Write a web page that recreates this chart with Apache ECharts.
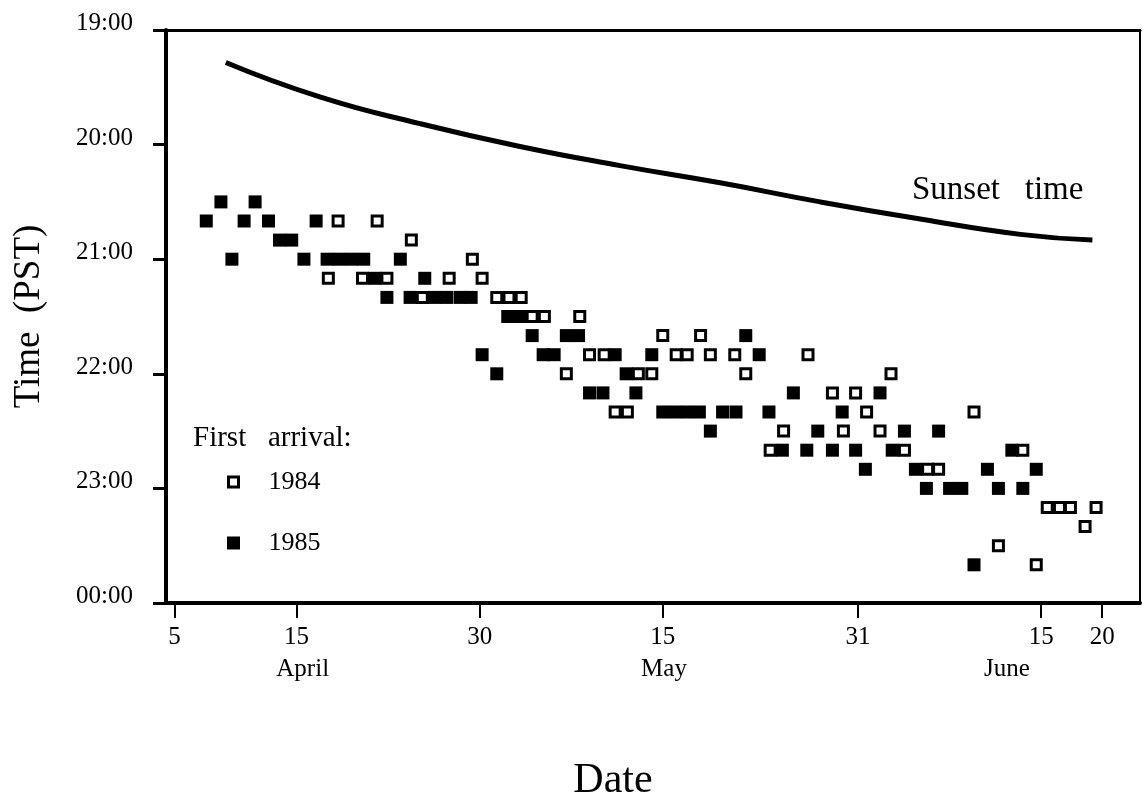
<!DOCTYPE html>
<html>
<head>
<meta charset="utf-8">
<script src="https://cdn.jsdelivr.net/npm/echarts@6/dist/echarts.min.js"></script>
<style>
html, body { margin: 0; padding: 0; background: #fff; }
#chart { width: 1143px; height: 793px; }
</style>
</head>
<body>
<div id="chart"></div>
<script>
// x values are days counted from March 31 (April 1 = 1)
var tickDays = [5, 15, 30, 45, 61, 76, 81];
var tickLabels = ['5', '15', '30', '15', '31', '15', '20'];
var monthDays = [15.5, 45.1, 73.2];
var monthNames = ['April', 'May', 'June'];

var sunsetDays = [9.2, 16.9, 25.1, 33.3, 41.5, 49.7, 57.9, 66.1, 74.3, 80.2];
var sunsetTimes = ['19:17', '19:35', '19:49', '20:01', '20:11', '20:20', '20:30', '20:39', '20:47', '20:50'];

var days1984 = [18.4, 21.6, 24.4, 29.4, 17.6, 20.4, 22.4, 27.5, 30.2, 25.3, 31.4, 32.4, 33.4,
  34.3, 35.3, 38.2, 45.0, 48.1, 39.0, 40.2, 46.1, 47.0, 48.9, 50.9, 56.9,
  37.1, 43.0, 44.1, 51.8, 63.7, 58.9, 60.8, 41.1, 42.1, 61.7, 70.5,
  54.9, 59.8, 62.8, 53.8, 64.8, 74.5, 66.7, 67.6, 76.5, 77.5, 78.4, 80.5,
  79.6, 72.5, 75.6];
var times1984 = ['20:40', '20:40', '20:50', '21:00', '21:10', '21:10', '21:10', '21:10', '21:10', '21:20', '21:20', '21:20', '21:20',
  '21:30', '21:30', '21:30', '21:40', '21:40', '21:50', '21:50', '21:50', '21:50', '21:50', '21:50', '21:50',
  '22:00', '22:00', '22:00', '22:00', '22:00', '22:10', '22:10', '22:20', '22:20', '22:20', '22:20',
  '22:30', '22:30', '22:30', '22:40', '22:40', '22:40', '22:50', '22:50', '23:10', '23:10', '23:10', '23:10',
  '23:20', '23:30', '23:40'];

var days1985 = [8.8, 11.6, 7.6, 10.7, 12.7, 16.6, 13.6, 14.6,
  9.7, 15.6, 17.5, 18.5, 19.5, 20.5, 23.5, 21.4, 25.5,
  22.4, 24.3, 26.3, 27.3, 28.4, 29.3, 32.3, 33.3,
  34.3, 37.1, 38.1, 51.8, 30.2, 35.2, 36.1, 41.1, 44.1, 52.9,
  31.4, 42.0, 39.0, 40.1, 42.8, 55.7, 62.8,
  45.0, 46.0, 47.0, 48.0, 49.9, 51.0, 53.7, 59.7,
  48.9, 57.7, 64.8, 67.6, 54.8, 56.8, 58.9, 60.8, 63.8, 73.6,
  61.6, 65.7, 71.6, 75.6, 66.6, 68.5, 69.5, 72.5, 74.5, 70.5];
var times1985 = ['20:30', '20:30', '20:40', '20:40', '20:40', '20:40', '20:50', '20:50',
  '21:00', '21:00', '21:00', '21:00', '21:00', '21:00', '21:00', '21:10', '21:10',
  '21:20', '21:20', '21:20', '21:20', '21:20', '21:20', '21:30', '21:30',
  '21:40', '21:40', '21:40', '21:40', '21:50', '21:50', '21:50', '21:50', '21:50', '21:50',
  '22:00', '22:00', '22:10', '22:10', '22:10', '22:10', '22:10',
  '22:20', '22:20', '22:20', '22:20', '22:20', '22:20', '22:20', '22:20',
  '22:30', '22:30', '22:30', '22:30', '22:40', '22:40', '22:40', '22:40', '22:40', '22:40',
  '22:50', '22:50', '22:50', '22:50', '23:00', '23:00', '23:00', '23:00', '23:00', '23:40'];

var FONT = '"Liberation Serif", "Times New Roman", serif';

function toHours(t) {
  var p = t.split(':');
  return +p[0] + (+p[1]) / 60;
}
function pairs(days, times) {
  return days.map(function (d, i) { return [d, toHours(times[i])]; });
}

var chart = echarts.init(document.getElementById('chart'));
chart.setOption({
  animation: false,
  backgroundColor: '#fff',
  grid: { left: 166, top: 30, right: 3, bottom: 190, outerBoundsMode: 'none', containLabel: false },
  xAxis: [{
    type: 'value',
    min: 4.3,
    max: 84.1,
    position: 'bottom',
    splitLine: { show: false },
    axisLine: { lineStyle: { color: '#000', width: 4 } },
    axisTick: { customValues: tickDays, length: 15, lineStyle: { color: '#000', width: 2 } },
    axisLabel: {
      customValues: tickDays.concat(monthDays),
      margin: 22,
      color: '#000',
      fontFamily: FONT,
      fontSize: 25,
      formatter: function (v) {
        var i = tickDays.indexOf(v);
        if (i >= 0) return tickLabels[i];
        i = monthDays.indexOf(v);
        return i >= 0 ? '{m|' + monthNames[i] + '}' : '';
      },
      rich: { m: { fontFamily: FONT, fontSize: 25, color: '#000', padding: [32, 0, 0, 0] } }
    },
    name: 'Date',
    nameLocation: 'middle',
    nameGap: 157,
    nameTextStyle: { color: '#000', fontFamily: FONT, fontSize: 42, padding: [0, 80, 0, 0] }
  }, {
    type: 'value',
    min: 4.3,
    max: 84.1,
    position: 'top',
    splitLine: { show: false },
    axisLine: { lineStyle: { color: '#000', width: 3 } },
    axisTick: { show: false },
    axisLabel: { show: false }
  }],
  yAxis: [{
    type: 'value',
    min: 19,
    max: 24,
    interval: 1,
    inverse: true,
    splitLine: { show: false },
    axisLine: { show: true, lineStyle: { color: '#000', width: 4 } },
    axisTick: { show: true, length: 13, lineStyle: { color: '#000', width: 3 } },
    axisLabel: {
      margin: 33,
      color: '#000',
      fontFamily: FONT,
      fontSize: 25,
      formatter: function (v) {
        var h = v % 24;
        return '{t|' + (h < 10 ? '0' : '') + h + ':00}';
      },
      rich: { t: { fontFamily: FONT, fontSize: 25, color: '#000', padding: [0, 0, 13, 0] } }
    },
    name: 'Time  (PST)',
    nameLocation: 'middle',
    nameGap: 118,
    nameTextStyle: { color: '#000', fontFamily: FONT, fontSize: 37 }
  }, {
    type: 'value',
    min: 19,
    max: 24,
    inverse: true,
    position: 'right',
    splitLine: { show: false },
    axisLine: { show: true, lineStyle: { color: '#000', width: 2 } },
    axisTick: { show: false },
    axisLabel: { show: false }
  }],
  legend: {
    orient: 'vertical',
    left: 227,
    top: 469,
    padding: 0,
    itemWidth: 10,
    itemHeight: 10,
    itemGap: 35,
    icon: 'rect',
    textStyle: { color: '#000', fontFamily: FONT, fontSize: 26, padding: [0, 0, 0, 25] },
    data: [
      { name: '1984', itemStyle: { color: '#fff', borderColor: '#000', borderWidth: 3 } },
      { name: '1985', itemStyle: { color: '#000', borderColor: '#000', borderWidth: 3 } }
    ]
  },
  graphic: [
    { type: 'text', left: 193, top: 424, style: { text: 'First   arrival:', fill: '#000', font: '29px ' + FONT } },
    { type: 'text', left: 912, top: 174, style: { text: 'Sunset   time', fill: '#000', font: '33px ' + FONT } }
  ],
  series: [{
    name: 'Sunset',
    type: 'line',
    smooth: true,
    symbol: 'none',
    lineStyle: { color: '#000', width: 5 },
    data: pairs(sunsetDays, sunsetTimes)
  }, {
    name: '1985',
    type: 'scatter',
    symbol: 'rect',
    symbolSize: 13,
    itemStyle: { color: '#000', opacity: 1 },
    data: pairs(days1985, times1985)
  }, {
    name: '1984',
    type: 'scatter',
    symbol: 'rect',
    symbolSize: 10,
    itemStyle: { color: '#fff', borderColor: '#000', borderWidth: 3, opacity: 1 },
    data: pairs(days1984, times1984)
  }]
});
</script>
</body>
</html>
